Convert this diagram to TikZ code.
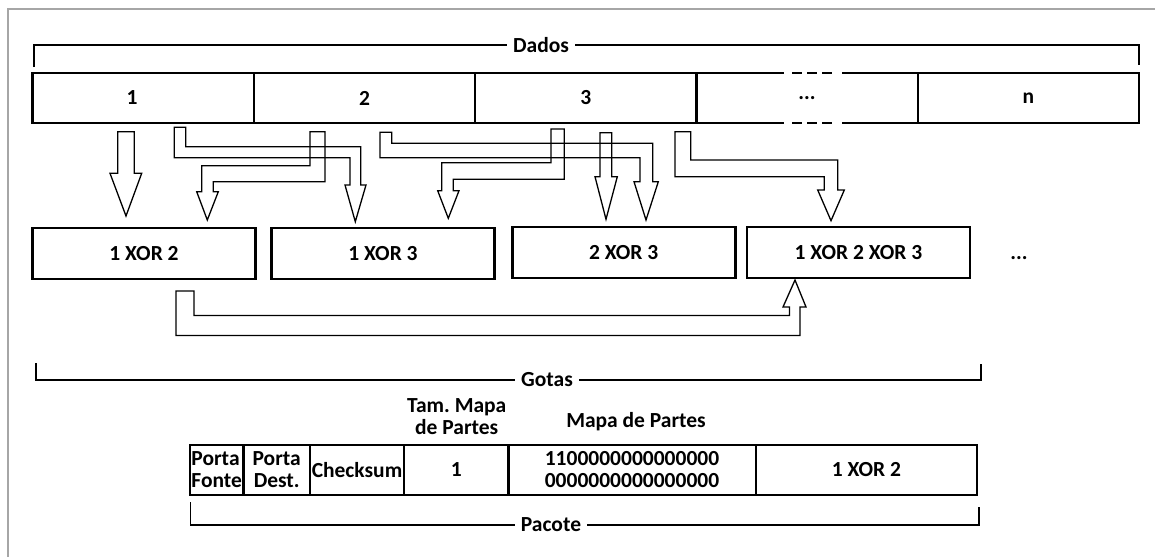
\documentclass[tikz,border=0pt]{standalone}
\usepackage{fontspec}
\setmainfont{Carlito}
\tikzset{
  cell/.style={draw, line width=2.4pt, minimum width=221.3pt, minimum height=50pt,
               inner sep=0pt, outer sep=0pt},
  drop/.style={draw, line width=2.6pt, minimum width=223pt, minimum height=51pt,
               inner sep=0pt},
  field/.style={draw, line width=2.4pt, minimum height=50pt, inner sep=1pt,
                align=center},
  bracket/.style={line width=1.1pt},
  tag/.style={fill=white, inner xsep=6pt, inner ysep=1pt},
  hollow/.style={line width=1.3pt, line join=miter},
}

\begin{document}
\begin{tikzpicture}[x=1pt, y=-1pt,
    every node/.style={font=\bfseries\fontsize{21.5}{22}\selectfont}]
  \useasboundingbox (0,0) rectangle (1155,557);
  % frame
  \draw[gray!70, line width=1.4pt] (8,557) -- (8,9) -- (1155,9);

  % Dados
  \draw[bracket] (34,67) -- (34,45) -- (1139,45) -- (1139,65);
  \node[tag] (dados) at (541,45) {Dados};
  \node[cell] (d1) at (143.15,98) {\makebox[33pt][l]{1}};
  \node[cell] (d2) at (364.45,98) {2};
  \node[cell] (d3) at (585.75,98) {3};
  \node[cell, draw=none] (dd) at (807.05,98) {...};
  \node[cell] (dn) at (1028.35,98) {n};
  \draw[line width=2.4pt, dash pattern=on 88pt off 8pt on 10pt off 5pt on 10pt off 5pt on 10pt off 10pt on 80pt]
    (dd.north west) -- (dd.north east) (dd.south west) -- (dd.south east);

  % gotas
  \node[drop] (x12) at (144,253.5) {1 XOR 2};
  \node[drop] (x13) at (383,253.5) {1 XOR 3};
  \node[drop] (x23) at (623.7,252.5) {2 XOR 3};
  \node[drop] (x123) at (858.5,252.5) {1 XOR 2 XOR 3};
  \node (more) at (1019,258) {...};

  % block arrows, data -> gotas
  \draw[hollow] (117.7,131.7) -- (134.3,131.7) -- (134.3,173.3) -- (141.7,173.3)
    -- (126,216) -- (110,173.3) -- (117.7,173.3) -- cycle;
  \draw[hollow] (174.3,127.3) -- (185.7,127.3) -- (185.7,146.7) -- (360.7,146.7)
    -- (360.7,185) -- (366,185) -- (355.3,221.7) -- (345,185) -- (350,185)
    -- (350,157.7) -- (174.3,157.7) -- cycle;
  \draw[hollow] (310,131.7) -- (325,131.7) -- (325,181.7) -- (213.3,181.7)
    -- (213.3,191.7) -- (218.3,191.7) -- (207.3,220) -- (196.7,191.7)
    -- (201.7,191.7) -- (201.7,165.7) -- (310,165.7) -- cycle;
  \draw[hollow] (380,132.3) -- (391.7,132.3) -- (391.7,143.3) -- (652.7,143.3)
    -- (652.7,181.7) -- (658.3,181.7) -- (646,220) -- (634,181.7) -- (640,181.7)
    -- (640,157.7) -- (380,157.7) -- cycle;
  \draw[hollow] (551,129) -- (564.3,129) -- (564.3,179.3) -- (453.3,179.3)
    -- (453.3,190.7) -- (459,190.7) -- (448.3,218.3) -- (437.7,190.7)
    -- (441.7,190.7) -- (441.7,162.7) -- (551,162.7) -- cycle;
  \draw[hollow] (600,132.7) -- (611.7,132.7) -- (611.7,176.7) -- (617.3,176.7)
    -- (606,219.3) -- (595,176.7) -- (600,176.7) -- cycle;
  \draw[hollow] (675,131.7) -- (690.7,131.7) -- (690.7,160) -- (837.7,160)
    -- (837.7,190) -- (844.3,190) -- (831,220.7) -- (817.7,190) -- (824.3,190)
    -- (824.3,176.7) -- (675,176.7) -- cycle;
  % 1 XOR 2 -> 1 XOR 2 XOR 3
  \draw[hollow] (176,291) -- (194,291) -- (194,315.5) -- (789.5,315.5)
    -- (789.5,307) -- (783,307) -- (795,280) -- (806,307) -- (800,307)
    -- (800,335.5) -- (176,335.5) -- cycle;

  \draw[bracket] (36,363) -- (36,380) -- (981,380) -- (981,364);
  \node[tag] (gotas) at (547,380) {Gotas};

  % pacote
  \node[align=center] (tmh) at (456.7,416.7) {Tam.\ Mapa\\de Partes};
  \node (mph) at (636,421.7) {Mapa de Partes};
  \node[field, minimum width=53.3pt, align=left] (pf) at (216.7,470) {Porta\\Fonte};
  \node[field, minimum width=66.7pt] (pd) at (276.7,470) {Porta\\Dest.};
  \node[field, minimum width=94pt] (ck) at (357,470) {Checksum};
  \node[field, minimum width=104.3pt] (tm) at (456.2,470) {1};
  \node[field, minimum width=247.4pt] (mp) at (632,470) {1100000000000000\\0000000000000000};
  \node[field, minimum width=221.3pt] (pl) at (866.4,470) {1 XOR 2};
  \draw[bracket] (190.7,502) -- (190.7,525) -- (979,525) -- (979,507);
  \node[tag] (pacote) at (551,525) {Pacote};
\end{tikzpicture}
\end{document}
